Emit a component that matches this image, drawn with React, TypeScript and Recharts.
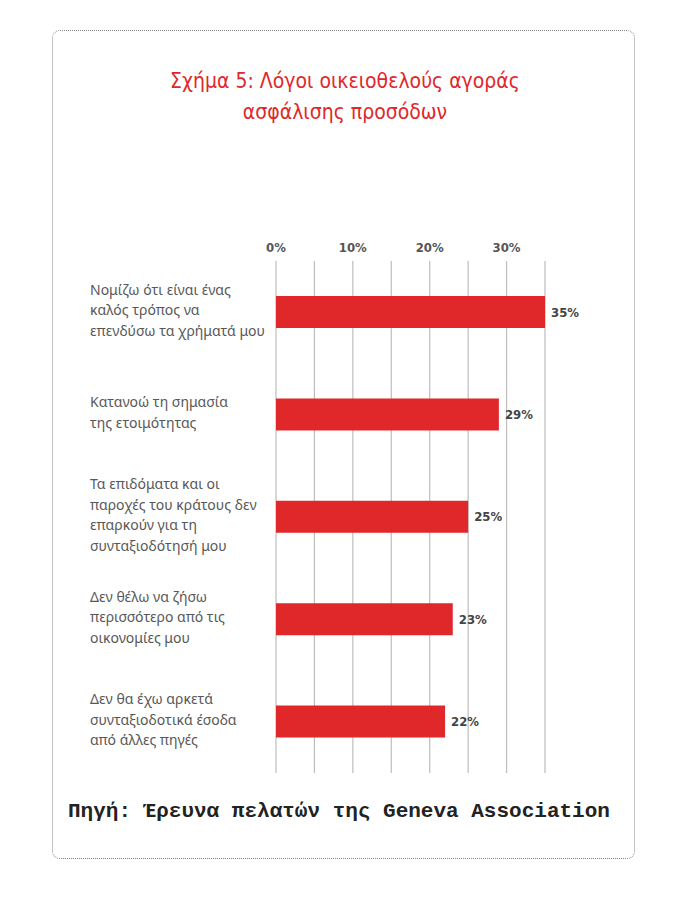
import React from 'react';
import { BarChart, Bar, XAxis, YAxis, CartesianGrid, LabelList } from 'recharts';

const categories: string[] = [
  'Νομίζω ότι είναι ένας\nκαλός τρόπος να\nεπενδύσω τα χρήματά μου',
  'Κατανοώ τη σημασία\nτης ετοιμότητας',
  'Τα επιδόματα και οι\nπαροχές του κράτους δεν\nεπαρκούν για τη\nσυνταξιοδότησή μου',
  'Δεν θέλω να ζήσω\nπερισσότερο από τις\nοικονομίες μου',
  'Δεν θα έχω αρκετά\nσυνταξιοδοτικά έσοδα\nαπό άλλες πηγές',
];
const values: number[] = [35, 29, 25, 23, 22];
const xTicks: number[] = [0, 5, 10, 15, 20, 25, 30, 35];
const titleLines: string[] = ['Σχήμα 5: Λόγοι οικειοθελούς αγοράς', 'ασφάλισης προσόδων'];
const sourceText = 'Πηγή: Έρευνα πελατών της Geneva Association';

const data = categories.map((c, i) => ({ name: c, value: values[i] }));

const RED = '#e0282b';
const NARROW = '"Liberation Sans Narrow", "DejaVu Sans Condensed", "Liberation Sans", sans-serif';

const YTick = (props: any) => {
  const { y, payload } = props;
  const lines: string[] = String(payload.value).split('\n');
  const lh = 20.5;
  const start = y - 3 - ((lines.length - 1) * lh) / 2;
  return (
    <text x={90} y={start} textAnchor="start" fill="#585858" fontSize={14} fontFamily='"Noto Sans", "Open Sans", sans-serif' dominantBaseline="central">
      {lines.map((l, i) => (
        <tspan key={i} x={90} y={start + i * lh} dominantBaseline="central">{l}</tspan>
      ))}
    </text>
  );
};

const XTick = (props: any) => {
  const { x, payload } = props;
  if (payload.value % 10 !== 0) return null;
  return (
    <text x={x} y={252} textAnchor="middle" fill="#555" fontSize={13} fontWeight="bold" fontFamily={NARROW}>
      {payload.value + '%'}
    </text>
  );
};

export default function App() {
  return (
    <div style={{ position: 'absolute', left: 0, top: 0, width: 700, height: 900, background: '#fff' }}>
      <div style={{ position: 'absolute', left: 52, top: 30, width: 583, height: 829, border: '1px dotted #888', borderRadius: 8, boxSizing: 'border-box' }} />
      <div style={{ position: 'absolute', left: 0, top: 66, width: 690, textAlign: 'center', color: RED, fontFamily: NARROW, fontSize: 21, lineHeight: '31px' }}>
        {titleLines.map((t, i) => (<div key={i}>{t}</div>))}
      </div>
      <div style={{ position: 'absolute', left: 0, top: 0 }}>
        <BarChart width={700} height={900} data={data} layout="vertical" margin={{ top: 231, right: 155, bottom: 127, left: 0 }} barCategoryGap={35}>
          <CartesianGrid horizontal={false} vertical={true} stroke="#bdbdbd" strokeWidth={1.2} />
          <XAxis type="number" orientation="top" domain={[0, 35]} ticks={xTicks} axisLine={false} tickLine={false} tick={<XTick />} height={30} interval={0} />
          <YAxis type="category" dataKey="name" width={276} axisLine={false} tickLine={false} tick={<YTick />} interval={0} />
          <Bar dataKey="value" fill={RED} barSize={32} isAnimationActive={false}>
            <LabelList dataKey="value" position="right" offset={6} formatter={(v: any) => v + '%'} fill="#444" fontSize={13} fontWeight="bold" fontFamily={NARROW} />
          </Bar>
        </BarChart>
      </div>
      <div style={{ position: 'absolute', left: 68, top: 800, fontFamily: '"Liberation Mono", "Courier New", monospace', fontSize: 21, fontWeight: 'bold', color: '#222', whiteSpace: 'nowrap' }}>
        {sourceText}
      </div>
    </div>
  );
}
